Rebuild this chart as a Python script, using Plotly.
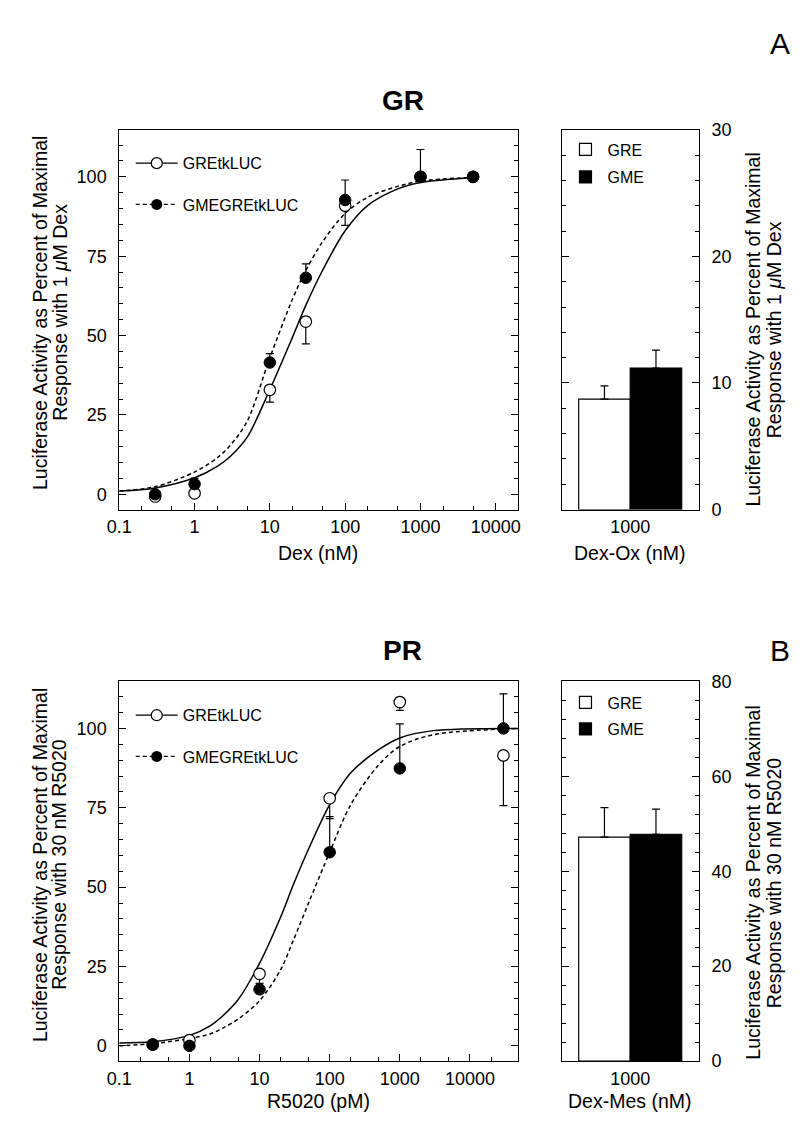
import plotly.graph_objects as go

# ---------------- data ----------------
# Panel A (GR) : Dex dose response (nM)
gr_dose = [0.3, 1, 10, 30, 100, 1000, 5000]
gr_gre_y = [-0.7, 0.3, 32.9, 54.4, 90.9, 100, 100]
gr_gre_err_minus = [0, 0.5, 3.9, 7.0, 6.2, 0, 0]
gr_gme_y = [0, 3.2, 41.5, 68.2, 92.7, 100, 100]
gr_gme_err_plus = [0, 1.9, 2.8, 4.4, 6.3, 8.6, 0]

gr_fit_x = [0.1, 0.3, 1, 2, 3, 5, 10, 20, 30, 50, 100, 200, 500, 1000, 5000]
gr_fit_gre = [1.0, 2.0, 5.2, 8.8, 12.0, 18.0, 33.0, 49.5, 59.5, 70.5, 83.0, 91.0, 96.2, 98.2, 99.7]
gr_fit_gme = [1.0, 2.4, 7.0, 11.5, 15.5, 23.0, 43.0, 61.5, 70.5, 79.5, 88.5, 93.6, 97.0, 98.7, 99.8]

# Panel A bars : Dex-Ox 1000 nM
bar_cat = ["1000"]
gr_bar_gre = [8.73]
gr_bar_gre_err = [1.04]
gr_bar_gme = [11.18]
gr_bar_gme_err = [1.42]

# Panel B (PR) : R5020 dose response (pM)
pr_dose = [0.3, 1, 10, 100, 1000, 30000]
pr_gre_y = [0.4, 1.8, 22.7, 78.0, 108.3, 91.5]
pr_gre_err_minus = [0, 0, 3.0, 6.4, 2.6, 15.8]
pr_gme_y = [0.4, 0.0, 17.8, 61.0, 87.4, 100]
pr_gme_err_plus = [0, 0, 0, 11.2, 14.0, 10.9]

pr_fit_x = [0.1, 0.3, 1, 2, 3, 5, 10, 20, 30, 50, 100, 200, 500, 1000, 3000, 50000]
pr_fit_gre = [0.9, 1.3, 3.3, 6.4, 9.5, 14.7, 26.0, 40.6, 50.5, 62.0, 76.0, 86.0, 93.3, 97.0, 99.3, 100]
pr_fit_gme = [0.0, 0.7, 2.3, 3.8, 5.6, 8.5, 14.2, 24.0, 33.0, 45.0, 61.0, 76.0, 88.5, 94.3, 98.0, 100]

# Panel B bars : Dex-Mes 1000 nM
pr_bar_gre = [47.2]
pr_bar_gre_err = [6.2]
pr_bar_gme = [47.8]
pr_bar_gme_err = [5.3]

log_ticks = [0.1, 1, 10, 100, 1000, 10000]
log_ticktext = ["0.1", "1", "10", "100", "1000", "10000"]
pct_ticks = [0, 25, 50, 75, 100]

# ---------------- layout helpers ----------------
W, H = 800, 1132
FONT = "Liberation Sans, Arial, Helvetica, sans-serif"


def xd(px):
    return px / W


def yd(py):
    return 1 - py / H


fig = go.Figure()
BLACK = "black"


def add_panel(xa, ya, fit_x, fit_gre, fit_gme, dose, gre_y, gre_minus,
              gme_y, gme_plus, lg1, lg2):
    fig.add_trace(go.Scatter(x=fit_x, y=fit_gre, mode="lines", xaxis=xa, yaxis=ya,
                             line=dict(color=BLACK, width=1.5, shape="spline", smoothing=0.9),
                             showlegend=False, hoverinfo="skip"))
    fig.add_trace(go.Scatter(x=fit_x, y=fit_gme, mode="lines", xaxis=xa, yaxis=ya,
                             line=dict(color=BLACK, width=1.5, dash="4px,3px", shape="spline",
                                       smoothing=0.9),
                             showlegend=False, hoverinfo="skip"))
    fig.add_trace(go.Scatter(x=dose, y=gre_y, mode="markers", xaxis=xa, yaxis=ya,
                             marker=dict(symbol="circle", size=11.5, color="white",
                                         line=dict(color=BLACK, width=1.2)),
                             error_y=dict(type="data", symmetric=False,
                                          array=[0] * len(dose), arrayminus=gre_minus,
                                          color=BLACK, thickness=1.2, width=4),
                             showlegend=False))
    fig.add_trace(go.Scatter(x=dose, y=gme_y, mode="markers", xaxis=xa, yaxis=ya,
                             marker=dict(symbol="circle", size=11.5, color=BLACK,
                                         line=dict(color=BLACK, width=1)),
                             error_y=dict(type="data", symmetric=False,
                                          array=gme_plus, arrayminus=[0] * len(dose),
                                          color=BLACK, thickness=1.2, width=4),
                             showlegend=False))
    # legend entries
    fig.add_trace(go.Scatter(x=[None], y=[None], mode="lines+markers", xaxis=xa, yaxis=ya,
                             name="GREtkLUC", legend=lg1,
                             line=dict(color=BLACK, width=1.3),
                             marker=dict(symbol="circle", size=11, color="white",
                                         line=dict(color=BLACK, width=1.2))))
    fig.add_trace(go.Scatter(x=[None], y=[None], mode="lines+markers", xaxis=xa, yaxis=ya,
                             name="GMEGREtkLUC", legend=lg2,
                             line=dict(color=BLACK, width=1.3, dash="4px,3px"),
                             marker=dict(symbol="circle", size=11, color=BLACK)))


def add_bars(xa, ya, gre, gre_err, gme, gme_err, lg1, lg2):
    fig.add_trace(go.Bar(x=bar_cat, y=gre, name="GRE", xaxis=xa, yaxis=ya, legend=lg1,
                         marker=dict(color="white", line=dict(color=BLACK, width=1.2)),
                         error_y=dict(type="data", symmetric=False, array=gre_err,
                                      arrayminus=[0], color=BLACK, thickness=1.2, width=4)))
    fig.add_trace(go.Bar(x=bar_cat, y=gme, name="GME", xaxis=xa, yaxis=ya, legend=lg2,
                         marker=dict(color=BLACK, line=dict(color=BLACK, width=1.2)),
                         error_y=dict(type="data", symmetric=False, array=gme_err,
                                      arrayminus=[0], color=BLACK, thickness=1.2, width=4)))


add_panel("x", "y", gr_fit_x, gr_fit_gre, gr_fit_gme, gr_dose, gr_gre_y,
          gr_gre_err_minus, gr_gme_y, gr_gme_err_plus, "legend", "legend2")
add_bars("x2", "y2", gr_bar_gre, gr_bar_gre_err, gr_bar_gme, gr_bar_gme_err, "legend3", "legend4")
add_panel("x3", "y3", pr_fit_x, pr_fit_gre, pr_fit_gme, pr_dose, pr_gre_y,
          pr_gre_err_minus, pr_gme_y, pr_gme_err_plus, "legend5", "legend6")
add_bars("x4", "y4", pr_bar_gre, pr_bar_gre_err, pr_bar_gme, pr_bar_gme_err, "legend7", "legend8")

TICKFONT = dict(family=FONT, size=18, color=BLACK)

common_axis = dict(showline=True, linecolor=BLACK, linewidth=1, showgrid=False,
                   zeroline=False, tickfont=TICKFONT, tickcolor=BLACK)

# pixel frames
LX0, LX1 = 108.3, 515
BX0, BX1 = 559, 699
A_Y0, A_Y1 = 122, 508.5
B_Y0, B_Y1 = 683.5, 1070


def log_axis(domain, rng, anchor):
    return dict(common_axis, type="log", domain=domain, range=rng, anchor=anchor,
                tickvals=log_ticks, ticktext=log_ticktext, ticks="inside", ticklen=7,
                mirror=True, ticklabelstandoff=1,
                minor=dict(ticks="inside", ticklen=4, tickcolor=BLACK, showgrid=False))


def pct_axis(domain, anchor):
    return dict(common_axis, domain=domain, range=[-4.8, 114.8], anchor=anchor,
                tickvals=pct_ticks, ticks="inside", ticklen=7, mirror="ticks",
                ticklabelstandoff=8,
                minor=dict(ticks="inside", ticklen=4, dtick=5, tick0=0, tickcolor=BLACK,
                           showgrid=False))


def bar_x(domain, anchor):
    return dict(common_axis, type="category", domain=domain, anchor=anchor, ticks="",
                mirror=True, ticklabelstandoff=1)


def bar_y(domain, anchor, top, dtick, mdt):
    return dict(common_axis, domain=domain, range=[0, top], anchor=anchor, side="right",
                dtick=dtick, ticks="inside", ticklen=7, mirror="ticks", ticklabelstandoff=8,
                minor=dict(ticks="inside", ticklen=4, dtick=mdt, tick0=0, tickcolor=BLACK,
                           showgrid=False))


fig.update_layout(
    width=W, height=H,
    margin=dict(l=0, r=0, t=0, b=0),
    paper_bgcolor="white", plot_bgcolor="white",
    font=dict(family=FONT, color=BLACK),
    barmode="group", bargap=0.25, bargroupgap=0,
    xaxis=log_axis([xd(LX0), xd(LX1)], [-1, 4.30], "y"),
    yaxis=pct_axis([yd(A_Y1), yd(A_Y0)], "x"),
    xaxis2=bar_x([xd(BX0), xd(BX1)], "y2"),
    yaxis2=bar_y([yd(A_Y1), yd(A_Y0)], "x2", 30, 10, 2),
    xaxis3=log_axis([xd(LX0), xd(LX1)], [-1, 4.69], "y3"),
    yaxis3=pct_axis([yd(B_Y1), yd(B_Y0)], "x3"),
    xaxis4=bar_x([xd(BX0), xd(BX1)], "y4"),
    yaxis4=bar_y([yd(B_Y1), yd(B_Y0)], "x4", 80, 20, 4),
)

LEGFONT = dict(family=FONT, size=16, color=BLACK)


def leg(xpx, ypx, itemwidth=30):
    return dict(x=xd(xpx), y=yd(ypx), xanchor="left", yanchor="middle",
                bgcolor="rgba(0,0,0,0)", borderwidth=0, font=LEGFONT,
                itemwidth=itemwidth, itemclick=False, itemdoubleclick=False)


fig.update_layout(
    legend=leg(120, 156, 42), legend2=leg(120, 198, 42),
    legend3=leg(561, 142, 34), legend4=leg(561, 170, 34),
    legend5=leg(120, 718, 42), legend6=leg(120, 760, 42),
    legend7=leg(561, 705, 34), legend8=leg(561, 732, 34),
)

ann = []


def text(x, y, s, size=19.5, angle=0):
    ann.append(dict(x=xd(x), y=yd(y), xref="paper", yref="paper", text=s, showarrow=False,
                    textangle=angle, xanchor="center", yanchor="middle",
                    font=dict(family=FONT, size=size, color=BLACK)))


ylab1 = "Luciferase Activity as Percent of Maximal"
ylab2A = "Response with 1 <i>μ</i>M Dex"
ylab2B = "Response with 30 nM R5020"
text(27, 308, ylab1, 19.5, -90)
text(47, 308, ylab2A, 19.5, -90)
text(754.5, 325, ylab1, 19.5, -90)
text(775.5, 325, ylab2A, 19.5, -90)
text(27, 870, ylab1, 19.5, -90)
text(47, 870, ylab2B, 19.5, -90)
text(754.5, 888, ylab1, 19.5, -90)
text(775.5, 888, ylab2B, 19.5, -90)
text(311, 553, "Dex (nM)")
text(629, 553, "Dex-Ox (nM)")
text(311, 1111, "R5020 (pM)")
text(629, 1111, "Dex-Mes (nM)")
text(397, 92, "<b>GR</b>", 28)
text(397, 652, "<b>PR</b>", 28)
text(782, 34, "A", 30)
text(782, 652, "B", 30)
fig.update_layout(annotations=ann)

fig.write_html("out.html", config={"displayModeBar": False},
               post_script="document.body.style.margin='0';document.body.style.padding='0';")
